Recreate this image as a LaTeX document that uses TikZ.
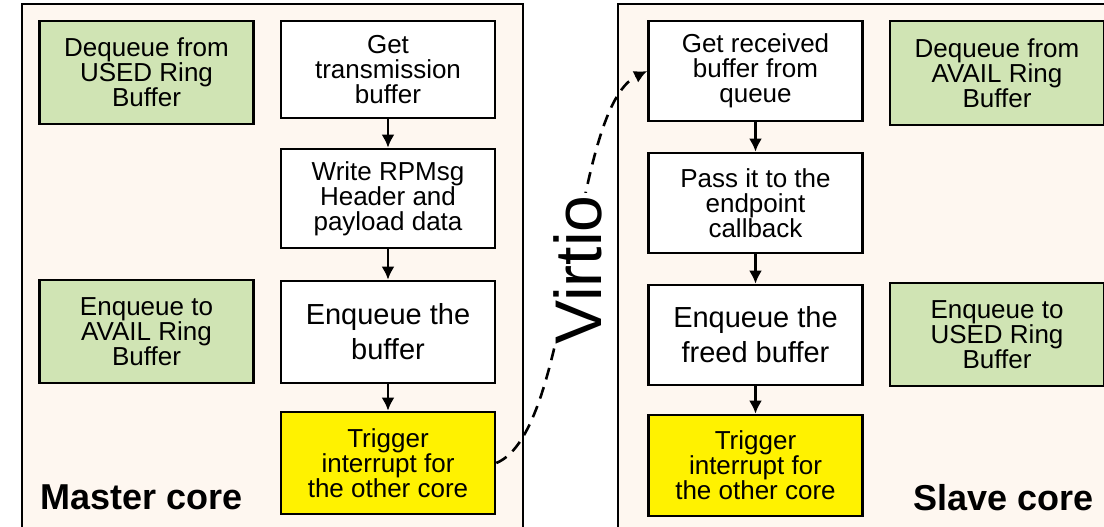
\documentclass[tikz,border=0pt]{standalone}
\usepackage{fontspec}
\setmainfont{Liberation Sans}
\usetikzlibrary{arrows.meta}
\definecolor{ringgreen}{RGB}{208,228,180}
\definecolor{corebg}{RGB}{254,247,240}
\tikzset{>={Latex[length=13pt, width=13pt]}}
\tikzset{
	core/.style = {draw, line width = 2.5pt, fill = corebg},
	stepbox/.style = {draw, line width = 2.6pt, fill = white, minimum width = 214pt, minimum height = 100pt,
		align = center, inner sep = 0pt, font = \fontsize{26}{25}\selectfont},
	ringbox/.style = {stepbox, fill = ringgreen, minimum height = 103pt},
	trigbox/.style = {stepbox, fill = yellow, minimum height = 102pt},
	bigtext/.style = {font = \fontsize{29}{35}\selectfont},
	flow/.style = {->, line width = 2.6pt},
	corelabel/.style = {anchor = base west, inner sep = 0pt, font = \fontsize{36}{36}\selectfont\bfseries}
}

\begin{document}
\begin{tikzpicture}[x = 1pt, y = -1pt]
	\useasboundingbox (0, 0) rectangle (1104, 527);
	\clip (0, 0) rectangle (1104, 527);
	% the two cores
	\draw[core] (22, 4) rectangle (523, 545);
	\draw[core] (618, 4) rectangle (1125, 545);
	% master side
	\node[ringbox] (deqUsed) at (146.5, 72.5) {Dequeue from\\USED Ring\\Buffer};
	\node[ringbox] (enqAvail) at (146.5, 331.5) {Enqueue to\\AVAIL Ring\\Buffer};
	\node[stepbox, minimum height = 97pt] (getTx) at (388, 69.5) {Get\\transmission\\buffer};
	\node[stepbox, minimum height = 99pt] (writeHdr) at (388, 198.5) {Write RPMsg\\Header and\\payload data};
	\node[stepbox, bigtext, minimum height = 102pt] (enqBuf) at (388, 332) {Enqueue the\\buffer};
	\node[trigbox] (trigMaster) at (388, 463) {Trigger\\interrupt for\\the other core};
	\draw[flow] (getTx) -- (writeHdr);
	\draw[flow] (writeHdr) -- (enqBuf);
	\draw[flow] (enqBuf) -- (trigMaster);
	\node[corelabel] (masterLbl) at (40, 509) {Master core};
	% slave side
	\node[stepbox] (getRx) at (755.5, 71) {Get received\\buffer from\\queue};
	\node[stepbox] (passCb) at (755.5, 203) {Pass it to the\\endpoint\\callback};
	\node[stepbox, bigtext] (enqFreed) at (755.5, 335) {Enqueue the\\freed buffer};
	\node[trigbox, minimum height = 101pt] (trigSlave) at (755.5, 465.5) {Trigger\\interrupt for\\the other core};
	\node[ringbox, minimum height = 104pt] (deqAvail) at (997, 73) {Dequeue from\\AVAIL Ring\\Buffer};
	\node[ringbox] (enqUsed) at (997, 334.5) {Enqueue to\\USED Ring\\Buffer};
	\draw[flow] (getRx) -- (passCb);
	\draw[flow] (passCb) -- (enqFreed);
	\draw[flow] (enqFreed) -- (trigSlave);
	\node[corelabel] (slaveLbl) at (913, 510) {Slave core};
	% virtio link
	\draw[flow, dash pattern = on 12pt off 8pt] (trigMaster.east) .. controls +(78, -32) and +(-78, 38) .. (getRx.west);
	\node[rotate = 90, fill = white, inner sep = 2pt, font = \fontsize{66}{66}\selectfont] (virtio) at (578, 270) {Virtio};
\end{tikzpicture}
\end{document}
